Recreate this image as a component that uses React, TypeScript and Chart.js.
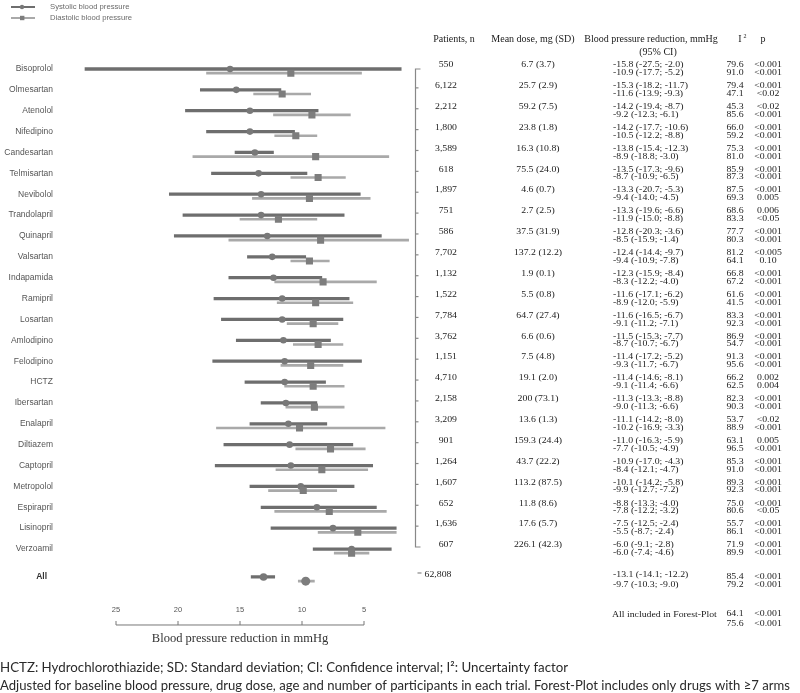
import React, { useEffect, useRef } from "react";
import { Chart, registerables } from "chart.js";

Chart.register(...registerables);

const drugs = ["Bisoprolol","Olmesartan","Atenolol","Nifedipino","Candesartan","Telmisartan","Nevibolol","Trandolapril","Quinapril","Valsartan","Indapamida","Ramipril","Losartan","Amlodipino","Felodipino","HCTZ","Ibersartan","Enalapril","Diltiazem","Captopril","Metropolol","Espirapril","Lisinopril","Verzoamil"];
const patients = [550,6122,2212,1800,3589,618,1897,751,586,7702,1132,1522,7784,3762,1151,4710,2158,3209,901,1264,1607,652,1636,607];
const doseMean = ["6.7","25.7","59.2","23.8","16.3","75.5","4.6","2.7","37.5","137.2","1.9","5.5","64.7","6.6","7.5","19.1","200","13.6","159.3","43.7","113.2","11.8","17.6","226.1"];
const doseSd = ["3.7","2.9","7.5","1.8","10.8","24.0","0.7","2.5","31.9","12.2","0.1","0.8","27.4","0.6","4.8","2.0","73.1","1.3","24.4","22.2","87.5","8.6","5.7","42.3"];

const sysMean = [-15.8,-15.3,-14.2,-14.2,-13.8,-13.5,-13.3,-13.3,-12.8,-12.4,-12.3,-11.6,-11.6,-11.5,-11.4,-11.4,-11.3,-11.1,-11.0,-10.9,-10.1,-8.8,-7.5,-6.0];
const sysLow = [-27.5,-18.2,-19.4,-17.7,-15.4,-17.3,-20.7,-19.6,-20.3,-14.4,-15.9,-17.1,-16.5,-15.3,-17.2,-14.6,-13.3,-14.2,-16.3,-17.0,-14.2,-13.3,-12.5,-9.1];
const sysHigh = [-2.0,-11.7,-8.7,-10.6,-12.3,-9.6,-5.3,-6.6,-3.6,-9.7,-8.4,-6.2,-6.7,-7.7,-5.2,-8.1,-8.8,-8.0,-5.9,-4.3,-5.8,-4.0,-2.4,-2.8];
const sysI2 = ["79.6","79.4","45.3","66.0","75.3","85.9","87.5","68.6","77.7","81.2","66.8","61.6","83.3","86.9","91.3","66.2","82.3","53.7","63.1","85.3","89.3","75.0","55.7","71.9"];
const sysP = ["<0.001","<0.001","<0.02","<0.001","<0.001","<0.001","<0.001","0.006","<0.001","<0.005","<0.001","<0.001","<0.001","<0.001","<0.001","0.002","<0.001","<0.02","0.005","<0.001","<0.001","<0.001","<0.001","<0.001"];

const diaMean = [-10.9,-11.6,-9.2,-10.5,-8.9,-8.7,-9.4,-11.9,-8.5,-9.4,-8.3,-8.9,-9.1,-8.7,-9.3,-9.1,-9.0,-10.2,-7.7,-8.4,-9.9,-7.8,-5.5,-6.0];
const diaLow = [-17.7,-13.9,-12.3,-12.2,-18.8,-10.9,-14.0,-15.0,-15.9,-10.9,-12.2,-12.0,-11.2,-10.7,-11.7,-11.4,-11.3,-16.9,-10.5,-12.1,-12.7,-12.2,-8.7,-7.4];
const diaHigh = [-5.2,-9.3,-6.1,-8.8,-3.0,-6.5,-4.5,-8.8,-1.4,-7.8,-4.0,-5.9,-7.1,-6.7,-6.7,-6.6,-6.6,-3.3,-4.9,-4.7,-7.2,-3.2,-2.4,-4.6];
const diaI2 = ["91.0","47.1","85.6","59.2","81.0","87.3","69.3","83.3","80.3","64.1","67.2","41.5","92.3","54.7","95.6","62.5","90.3","88.9","96.5","91.0","92.3","80.6","86.1","89.9"];
const diaP = ["<0.001","<0.02","<0.001","<0.001","<0.001","<0.001","0.005","<0.05","<0.001","0.10","<0.001","<0.001","<0.001","<0.001","<0.001","0.004","<0.001","<0.001","<0.001","<0.001","<0.001","<0.05","<0.001","<0.001"];

const allLabel = "All";
const allPatients = 62808;
const allSys = [-13.1, -14.1, -12.2];
const allDia = [-9.7, -10.3, -9.0];
const allI2 = ["85.4", "79.2"];
const allP = ["<0.001", "<0.001"];
const forestI2 = ["64.1", "75.6"];
const forestP = ["<0.001", "<0.001"];

const xTicks = [-25, -20, -15, -10, -5];
const legendLabels = ["Systolic blood pressure", "Diastolic blood pressure"];
const xTitle = "Blood pressure reduction in mmHg";
const footnotes = [
  "HCTZ: Hydrochlorothiazide; SD: Standard deviation; CI: Confidence interval; I\u00b2: Uncertainty factor",
  "Adjusted for baseline blood pressure, drug dose, age and number of participants in each trial. Forest-Plot includes only drugs with \u22657 arms",
];

const ALL_ROW = 24.34;
const DIA_OFF = 0.2;
const SYS_LINE = "#6e6e6e";
const DIA_LINE = "#a9a9a9";
const SYS_PT = "#787878";
const DIA_PT = "#7d7d7d";
const TABLE_FONT = '8.6px "Liberation Serif", "Times New Roman", serif';
const STRETCH = 1.14;

const f1 = (v: number) => v.toFixed(1);
const ci = (m: number, lo: number, hi: number) => `${f1(m)} (${f1(lo)}; ${f1(hi)})`;

function sText(ctx: CanvasRenderingContext2D, text: string, x: number, y: number, align: CanvasTextAlign) {
  ctx.save();
  ctx.translate(x, y);
  ctx.scale(STRETCH, 1);
  ctx.textAlign = align;
  ctx.fillText(text, 0, 0);
  ctx.restore();
}

const decorPlugin = {
  id: "decor",
  afterDraw(chart: any) {
    const ctx = chart.ctx as CanvasRenderingContext2D;
    const xs = chart.scales.x;
    const ys = chart.scales.y;
    ctx.save();
    ctx.textBaseline = "middle";

    // legend
    const legY = [7, 18];
    legY.forEach((y, k) => {
      ctx.strokeStyle = k === 0 ? SYS_LINE : DIA_LINE;
      ctx.lineWidth = 2;
      ctx.beginPath(); ctx.moveTo(11, y); ctx.lineTo(35, y); ctx.stroke();
      ctx.fillStyle = k === 0 ? SYS_PT : DIA_PT;
      if (k === 0) { ctx.beginPath(); ctx.arc(22, y, 2.2, 0, Math.PI * 2); ctx.fill(); }
      else ctx.fillRect(20, y - 2.2, 4.4, 4.4);
      ctx.fillStyle = "#6a6a6a";
      ctx.font = '7.7px "Liberation Sans", Arial, sans-serif';
      ctx.textAlign = "left";
      ctx.fillText(legendLabels[k], 50, y);
    });

    // left labels
    ctx.fillStyle = "#555";
    ctx.textAlign = "right";
    ctx.font = '8.5px "Liberation Sans", Arial, sans-serif';
    drugs.forEach((d, i) => ctx.fillText(d, 53, ys.getPixelForValue(i)));
    ctx.font = 'bold 8.5px "Liberation Sans", Arial, sans-serif';
    ctx.fillStyle = "#333";
    ctx.fillText(allLabel, 47, ys.getPixelForValue(ALL_ROW));

    // x axis (ticks above line)
    const lineY = ys.getPixelForValue(26.64);
    const labY = ys.getPixelForValue(25.93);
    const x0 = xs.getPixelForValue(xTicks[0]);
    const x1 = xs.getPixelForValue(xTicks[xTicks.length - 1]);
    ctx.strokeStyle = "#777";
    ctx.lineWidth = 1;
    ctx.beginPath(); ctx.moveTo(x0, lineY); ctx.lineTo(x1, lineY); ctx.stroke();
    ctx.font = '7.5px "Liberation Sans", Arial, sans-serif';
    ctx.fillStyle = "#555";
    ctx.textAlign = "center";
    xTicks.forEach((t) => {
      const px = xs.getPixelForValue(t);
      ctx.beginPath(); ctx.moveTo(px, lineY); ctx.lineTo(px, lineY - 4); ctx.stroke();
      ctx.fillText(String(Math.abs(t)), px, labY);
    });
    ctx.font = '12.5px "Liberation Serif", "Times New Roman", serif';
    ctx.fillStyle = "#333";
    ctx.fillText(xTitle, (x0 + x1) / 2, ys.getPixelForValue(27.31));

    // bracket
    const bx = 415.5;
    const by0 = ys.getPixelForValue(0);
    const by1 = ys.getPixelForValue(23) - 2;
    ctx.strokeStyle = "#888";
    ctx.lineWidth = 1.2;
    ctx.beginPath();
    ctx.moveTo(bx + 5, by0); ctx.lineTo(bx, by0); ctx.lineTo(bx, by1); ctx.lineTo(bx + 5, by1);
    ctx.stroke();
    for (let i = 1; i < 23; i++) {
      const y = ys.getPixelForValue(i) - 2;
      ctx.beginPath(); ctx.moveTo(bx, y); ctx.lineTo(bx + 3, y); ctx.stroke();
    }
    const ay = ys.getPixelForValue(ALL_ROW) - 4;
    ctx.beginPath(); ctx.moveTo(bx + 2, ay); ctx.lineTo(bx + 6, ay); ctx.stroke();

    // table header
    ctx.fillStyle = "#1a1a1a";
    ctx.font = '10px "Liberation Serif", "Times New Roman", serif';
    ctx.textAlign = "center";
    ctx.fillText("Patients, n", 454, 39);
    ctx.fillText("Mean dose, mg (SD)", 533, 39);
    ctx.fillText("Blood pressure reduction, mmHg", 651, 39);
    ctx.fillText("(95% CI)", 658, 52);
    ctx.fillText("I", 740, 39);
    ctx.font = '6px "Liberation Serif", "Times New Roman", serif';
    ctx.fillText("2", 745, 36);
    ctx.font = '10px "Liberation Serif", "Times New Roman", serif';
    ctx.fillText("p", 763, 39);

    // table rows
    ctx.font = TABLE_FONT;
    drugs.forEach((_, i) => {
      const y = ys.getPixelForValue(i);
      const l1 = y - 4;
      const l2 = y + 3.8;
      sText(ctx, patients[i].toLocaleString("en-US"), 446, l1, "center");
      sText(ctx, `${doseMean[i]} (${doseSd[i]})`, 538, l1, "center");
      sText(ctx, sysI2[i], 735, l1, "center");
      sText(ctx, diaI2[i], 735, l2, "center");
      sText(ctx, sysP[i], 768, l1, "center");
      sText(ctx, diaP[i], 768, l2, "center");
      sText(ctx, ci(sysMean[i], sysLow[i], sysHigh[i]), 613, l1, "left");
      sText(ctx, ci(diaMean[i], diaLow[i], diaHigh[i]), 613, l2, "left");
    });
    {
      const y = ys.getPixelForValue(ALL_ROW);
      const l1 = y - 2;
      const l2 = y + 7.5;
      sText(ctx, allPatients.toLocaleString("en-US"), 438, l1, "center");
      sText(ctx, allI2[0], 735, l1 + 1.5, "center");
      sText(ctx, allI2[1], 735, l2, "center");
      sText(ctx, allP[0], 768, l1 + 1.5, "center");
      sText(ctx, allP[1], 768, l2, "center");
      sText(ctx, ci(allSys[0], allSys[1], allSys[2]), 613, l1, "left");
      sText(ctx, ci(allDia[0], allDia[1], allDia[2]), 613, l2, "left");
      sText(ctx, "All included in Forest-Plot", 612, 615, "left");
      sText(ctx, forestI2[0], 735, 614, "center");
      sText(ctx, forestI2[1], 735, 624, "center");
      sText(ctx, forestP[0], 768, 614, "center");
      sText(ctx, forestP[1], 768, 624, "center");
    }

    // footnotes
    ctx.textAlign = "left";
    ctx.fillStyle = "#2a2a2a";
    ctx.font = '13.3px Lato, "Open Sans", sans-serif';
    ctx.fillText(footnotes[0], 0, 668);
    ctx.fillText(footnotes[1], 0, 686, 790);
    ctx.restore();
  },
};

export default function App() {
  const ref = useRef<HTMLCanvasElement | null>(null);
  useEffect(() => {
    document.body.style.margin = "0";
    const rows = drugs.map((_, i) => i);
    const sysBars = rows.map((i) => ({ x: [sysLow[i], sysHigh[i]], y: i }));
    sysBars.push({ x: [allSys[1], allSys[2]], y: ALL_ROW });
    const diaBars = rows.map((i) => ({ x: [diaLow[i], diaHigh[i]], y: i + DIA_OFF }));
    diaBars.push({ x: [allDia[1], allDia[2]], y: ALL_ROW + DIA_OFF });
    const sysPts = rows.map((i) => ({ x: sysMean[i], y: i }));
    sysPts.push({ x: allSys[0], y: ALL_ROW });
    const diaPts = rows.map((i) => ({ x: diaMean[i], y: i + DIA_OFF }));
    diaPts.push({ x: allDia[0], y: ALL_ROW + DIA_OFF });

    const chart = new Chart(ref.current as HTMLCanvasElement, {
      type: "bar",
      data: {
        datasets: [
          { type: "bar", data: sysBars as any, backgroundColor: SYS_LINE, barThickness: 2.6, grouped: false, order: 4 } as any,
          { type: "bar", data: diaBars as any, backgroundColor: DIA_LINE, barThickness: 2, grouped: false, order: 3 } as any,
          { type: "scatter", data: sysPts as any, pointStyle: "circle", pointRadius: sysPts.map((_, k) => (k === 24 ? 3.8 : 3.3)), backgroundColor: SYS_PT, borderWidth: 0, order: 2 } as any,
          { type: "scatter", data: diaPts as any, pointStyle: diaPts.map((_, k) => (k === 24 ? "circle" : "rect")), pointRadius: diaPts.map((_, k) => (k === 24 ? 4.5 : 5)), backgroundColor: DIA_PT, borderWidth: 0, order: 1 } as any,
        ],
      },
      options: {
        indexAxis: "y",
        responsive: false,
        animation: false,
        events: [],
        layout: { padding: { left: 66.4, right: 386.4, top: 48.13, bottom: 60.5 } },
        plugins: { legend: { display: false }, tooltip: { enabled: false } },
        scales: {
          x: { type: "linear", min: -29, max: -1, display: false, offset: false },
          y: { type: "linear", min: -1, max: 27, reverse: true, display: false, offset: false },
        },
      } as any,
      plugins: [decorPlugin],
    });
    return () => chart.destroy();
  }, []);
  return (
    <div style={{ position: "absolute", left: 0, top: 0, width: 800, height: 693 }}>
      <canvas ref={ref} width={800} height={693} style={{ width: 800, height: 693 }} />
    </div>
  );
}
